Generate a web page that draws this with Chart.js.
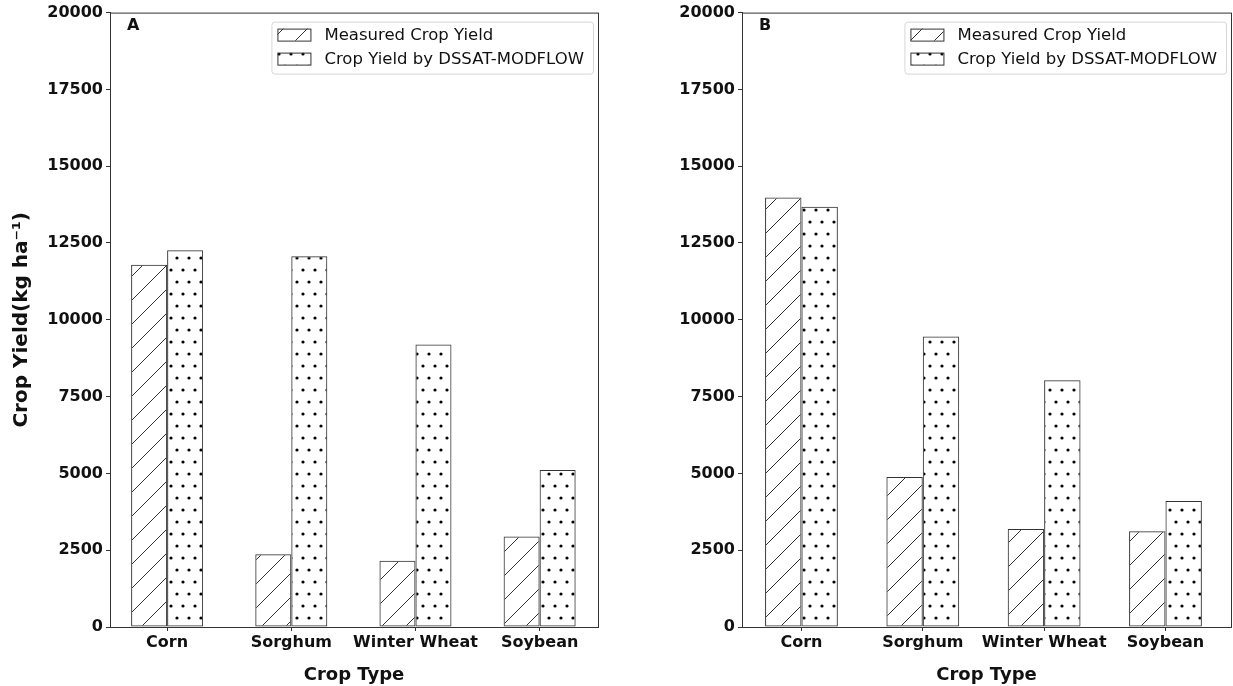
<!DOCTYPE html>
<html>
<head>
<meta charset="utf-8">
<script src="https://cdn.jsdelivr.net/npm/chart.js@4.4.1/dist/chart.umd.min.js"></script>
<style>
  body { margin: 0; background: #fff; }
  #wrap-a { position: absolute; left: 0; top: 0; width: 612px; height: 686px; }
  #wrap-b { position: absolute; left: 615px; top: 0; width: 618px; height: 686px; }
</style>
</head>
<body>
<div id="wrap-a"><canvas id="chart-a"></canvas></div>
<div id="wrap-b"><canvas id="chart-b"></canvas></div>
<script>
// ---------------------------------------------------------------------------------------
// Daten

var crops = ["Corn", "Sorghum", "Winter Wheat", "Soybean"];
var labelMeasured = "Measured Crop Yield";
var labelModel = "Crop Yield by DSSAT-MODFLOW";

var measured_a = [11790, 2370, 2160, 2950];
var model_a = [12260, 12070, 9200, 5110];

var measured_b = [13980, 4880, 3190, 3120];
var model_b = [13680, 9460, 8030, 4100];

var yTicks = [0, 2500, 5000, 7500, 10000, 12500, 15000, 17500, 20000];

var FONT = "'DejaVu Sans', sans-serif";
var EDGE = "#333333";

// ---------------------------------------------------------------------------------------
// Schraffuren

function makeHatch() {
  var c = document.createElement("canvas");
  c.width = 24; c.height = 24;
  var x = c.getContext("2d");
  x.strokeStyle = "#333";
  x.lineWidth = 1;
  x.beginPath();
  x.moveTo(-2, 26); x.lineTo(26, -2);
  x.stroke();
  return x.createPattern(c, "repeat");
}

function makeDots() {
  var c = document.createElement("canvas");
  c.width = 12; c.height = 24;
  var x = c.getContext("2d");
  x.fillStyle = "#000";
  x.beginPath(); x.arc(3, 6, 1.6, 0, Math.PI * 2); x.fill();
  x.beginPath(); x.arc(9, 18, 1.6, 0, Math.PI * 2); x.fill();
  return x.createPattern(c, "repeat");
}

// ---------------------------------------------------------------------------------------
// Rahmen, Buchstabe und Legende im Plotbereich

var framePlugin = {
  id: "frame",
  afterDraw: function(chart, args, opts) {
    var ctx = chart.ctx;
    var a = chart.chartArea;
    ctx.save();
    ctx.strokeStyle = EDGE;
    ctx.lineWidth = 1;
    ctx.strokeRect(a.left + 0.5, a.top + 0.5, a.right - a.left, a.bottom - a.top);

    ctx.fillStyle = "#111";
    ctx.font = "bold 16px " + FONT;
    ctx.textBaseline = "middle";
    ctx.fillText(opts.letter, a.left + 17, a.top + 13);

    // legende
    var ds = chart.data.datasets;
    ctx.font = "16.5px " + FONT;
    var tw = Math.max(ctx.measureText(ds[0].label).width, ctx.measureText(ds[1].label).width);
    var bw = tw + 62, bh = 52;
    var bx = a.right - 5 - bw, by = a.top + 9;
    ctx.beginPath();
    ctx.roundRect(bx + 0.5, by + 0.5, bw, bh, 3);
    ctx.fillStyle = "rgba(255,255,255,0.85)";
    ctx.fill();
    ctx.strokeStyle = "#d6d6d6";
    ctx.stroke();
    for (var i = 0; i < 2; i++) {
      var py = by + 7 + i * 24;
      ctx.fillStyle = "#fff";
      ctx.fillRect(bx + 6, py, 33, 12);
      ctx.fillStyle = ds[i].backgroundColor;
      ctx.fillRect(bx + 6, py, 33, 12);
      ctx.strokeStyle = EDGE;
      ctx.strokeRect(bx + 6.5, py + 0.5, 33, 12);
      ctx.fillStyle = "#111";
      ctx.fillText(ds[i].label, bx + 53, py + 7);
    }
    ctx.restore();
  }
};

// ---------------------------------------------------------------------------------------
// Chart

function toPoints(values) {
  return values.map(function(v, i) { return { x: i, y: v }; });
}

function buildChart(id, letter, measured, model, yWidth, yTitle, padRight, xMin, xMax, catPct) {
  return new Chart(document.getElementById(id), {
    type: "bar",
    data: {
      datasets: [
        {
          label: labelMeasured,
          data: toPoints(measured),
          backgroundColor: makeHatch(),
          borderColor: EDGE,
          borderWidth: 1,
          borderSkipped: false
        },
        {
          label: labelModel,
          data: toPoints(model),
          backgroundColor: makeDots(),
          borderColor: EDGE,
          borderWidth: 1,
          borderSkipped: false
        }
      ]
    },
    options: {
      responsive: true,
      maintainAspectRatio: false,
      animation: false,
      layout: { padding: { top: 12, right: padRight, left: 0, bottom: 0 } },
      datasets: { bar: { categoryPercentage: catPct, barPercentage: 1.0 } },
      scales: {
        x: {
          type: "linear",
          min: xMin,
          max: xMax,
          offset: false,
          afterBuildTicks: function(s) { s.ticks = crops.map(function(c, i) { return { value: i }; }); },
          grid: { display: true, drawOnChartArea: false, offset: false, tickLength: 4, color: EDGE },
          border: { display: true, color: EDGE },
          ticks: {
            color: "#111", font: { family: FONT, size: 16, weight: "bold" }, padding: 2, maxRotation: 0, autoSkip: false,
            callback: function(v) { return crops[v]; }
          },
          title: { display: true, text: "Crop Type", color: "#111", font: { family: FONT, size: 18, weight: "bold" }, padding: { top: 10, bottom: 0 } },
          afterFit: function(s) { s.height = 59; }
        },
        y: {
          min: 0,
          max: 20000,
          afterBuildTicks: function(s) { s.ticks = yTicks.map(function(v) { return { value: v }; }); },
          grid: { display: true, drawOnChartArea: false, tickLength: 4, color: EDGE },
          border: { display: true, color: EDGE },
          ticks: {
            color: "#111", font: { family: FONT, size: 16, weight: "bold" }, padding: 3,
            callback: function(v) { return String(v); }
          },
          title: { display: yTitle != "", text: yTitle, color: "#111", font: { family: FONT, size: 20, weight: "bold" }, padding: { top: 10, bottom: 7 } },
          afterFit: function(s) { s.width = yWidth; }
        }
      },
      plugins: {
        legend: { display: false },
        tooltip: { enabled: false },
        frame: { letter: letter }
      }
    },
    plugins: [framePlugin]
  });
}

buildChart("chart-a", "A", measured_a, model_a, 110, "Crop Yield(kg ha\u207B\u00B9)", 14, -0.46, 3.47, 0.58);
buildChart("chart-b", "B", measured_b, model_b, 127, "", 2, -0.49, 3.54, 0.6);
</script>
</body>
</html>
